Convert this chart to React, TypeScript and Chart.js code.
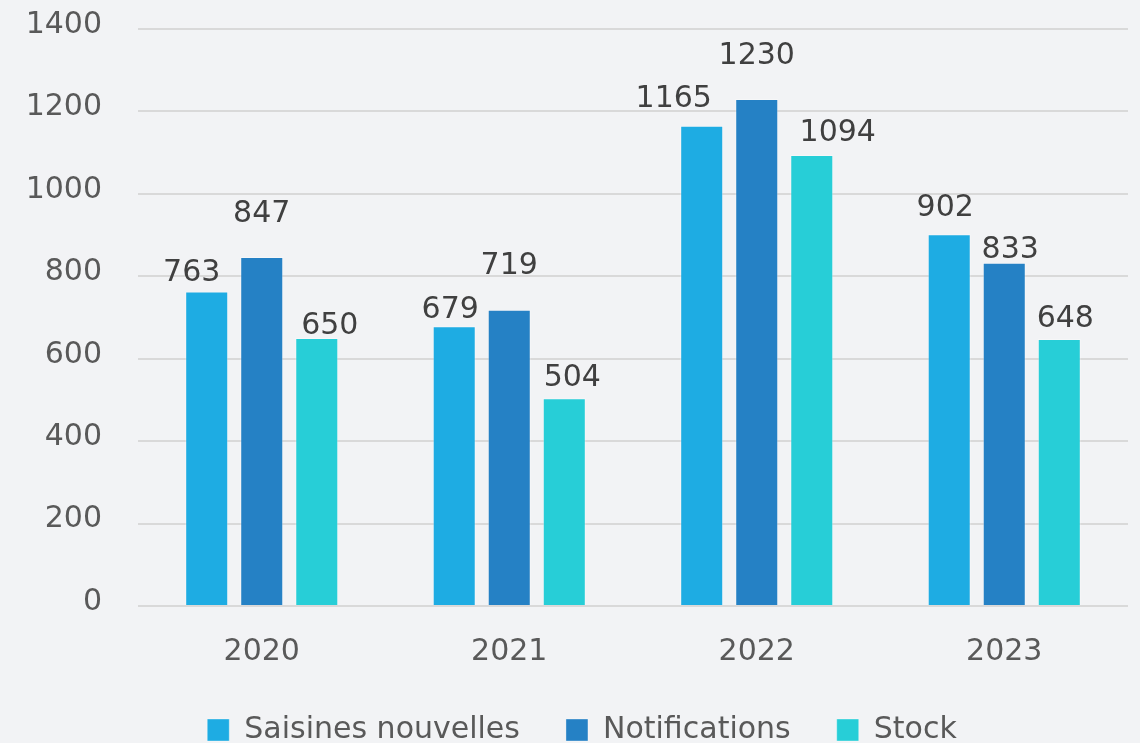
import React, { useEffect, useRef } from "react";
import { Chart, registerables } from "chart.js";

Chart.register(...registerables);

const categories = ["2020", "2021", "2022", "2023"];
const saisines = [763, 679, 1165, 902];
const notifications = [847, 719, 1230, 833];
const stock = [650, 504, 1094, 648];
const seriesNames = ["Saisines nouvelles", "Notifications", "Stock"];
const seriesColors = ["#1eace3", "#2581c5", "#27ced7"];
const yTicks = [0, 200, 400, 600, 800, 1000, 1200, 1400];

// label nudges (dx, dy) relative to the default anchor above each bar, per series/category
const labelNudges = [
  [[-15, 3], [-4, 5], [-28, -6], [-4, -5]],
  [[0, -22], [0, -22], [0, -22], [6, 9]],
  [[13, 9], [8, 1], [26, -1], [6, 1]],
];

const FONT = "'DejaVu Sans', Verdana, sans-serif";

const valueLabels = {
  id: "valueLabels",
  afterInit(chart: any) {
    const lg = chart.legend;
    if (lg) {
      const f = lg.fit.bind(lg);
      lg.fit = () => {
        f();
        lg.height = 74;
      };
      const d = lg.draw.bind(lg);
      lg.draw = () => {
        chart.ctx.save();
        chart.ctx.translate(5, 0);
        d();
        chart.ctx.restore();
      };
    }
  },
  afterDatasetsDraw(chart: any) {
    const ctx = chart.ctx;
    ctx.save();
    ctx.font = `30px ${FONT}`;
    ctx.fillStyle = "#404040";
    ctx.textAlign = "center";
    ctx.textBaseline = "middle";
    chart.data.datasets.forEach((ds: any, di: number) => {
      const meta = chart.getDatasetMeta(di);
      meta.data.forEach((bar: any, i: number) => {
        const [dx, dy] = labelNudges[di][i];
        ctx.fillText(String(ds.data[i]), bar.x + dx, bar.y - 21 + dy);
      });
    });
    ctx.restore();
  },
};

export default function App() {
  const ref = useRef<HTMLCanvasElement>(null);
  useEffect(() => {
    document.body.style.margin = "0";
    const chart = new Chart(ref.current!, {
      type: "bar",
      data: {
        labels: categories,
        datasets: [saisines, notifications, stock].map((d, i) => ({
          label: seriesNames[i],
          data: d,
          backgroundColor: seriesColors[i],
          borderColor: "rgba(255,255,255,0.35)",
          borderWidth: 1,
          categoryPercentage: 0.667,
          barPercentage: 0.782,
        })),
      },
      options: {
        responsive: false,
        animation: false,
        layout: { padding: { left: 26, right: 12, top: 29, bottom: 0 } },
        scales: {
          x: {
            grid: { display: false },
            border: { display: false },
            ticks: { color: "#595959", font: { family: FONT, size: 30 }, padding: 20, maxRotation: 0 },
            afterFit: (s: any) => {
              s.height = 63;
              s.paddingLeft = 0;
              s.paddingRight = 0;
            },
          },
          y: {
            min: 0,
            max: 1400,
            afterBuildTicks: (axis: any) => {
              axis.ticks = yTicks.map((v) => ({ value: v }));
            },
            grid: { color: "#d9d9d9", lineWidth: 2, drawTicks: false },
            border: { display: false },
            ticks: {
              color: "#595959",
              font: { family: FONT, size: 30 },
              padding: 36,
              labelOffset: -4,
              callback: (v: any) => String(v),
            },
            afterFit: (s: any) => {
              s.width = 112;
              s.paddingTop = 0;
              s.paddingBottom = 0;
            },
          },
        },
        plugins: {
          legend: {
            position: "bottom",
            labels: {
              boxWidth: 22,
              boxHeight: 22,
              padding: 46,
              color: "#595959",
              font: { family: FONT, size: 30 },
            },
          },
          tooltip: { enabled: false },
        },
      },
      plugins: [valueLabels],
    });
    return () => chart.destroy();
  }, []);
  return (
    <div style={{ position: "fixed", left: 0, top: 0, width: 1140, height: 743, background: "#f2f3f5" }}>
      <canvas ref={ref} width={1140} height={743} />
    </div>
  );
}
